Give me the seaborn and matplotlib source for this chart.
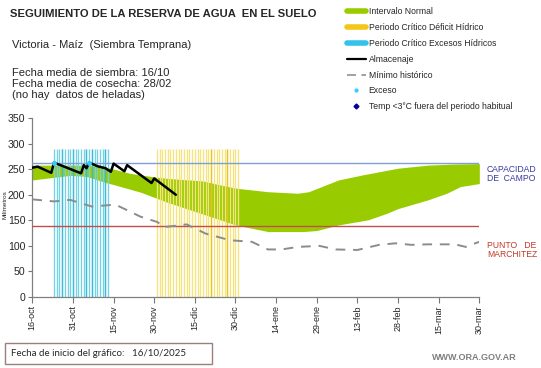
import numpy as np
import pandas as pd
import matplotlib
matplotlib.use("Agg")
import matplotlib.pyplot as plt
from matplotlib.lines import Line2D
from matplotlib.patches import Rectangle
import seaborn as sns

# ==========================================================
# DATA (days counted from 16-oct)
# ==========================================================

tick_days = [0, 15, 30, 45, 60, 75, 90, 105, 120, 135, 150, 165]
tick_labels = ["16-oct", "31-oct", "15-nov", "30-nov", "15-dic", "30-dic",
               "14-ene", "29-ene", "13-feb", "28-feb", "15-mar", "30-mar"]

# Intervalo normal (upper / lower edge)
normal_days = [0, 10, 20, 28, 36, 45, 50, 63, 67, 75, 87, 98, 102, 113,
               122, 131, 135, 146, 155, 165]
normal_upper = [258, 258, 258, 253, 242, 235, 232, 227, 222, 213, 206, 203,
                206, 229, 239, 248, 252, 258, 260, 261]
low_days = [0, 14, 20, 27, 30, 40, 50, 62, 75, 87, 100, 105, 113, 124,
            131, 135, 146, 153, 158, 165]
normal_lower = [229, 238, 236, 224, 220, 205, 185, 164, 141, 128, 128, 130,
                141, 151, 164, 173, 190, 203, 216, 222]

# Almacenaje
alm_days = [0, 2, 7, 8, 18, 19, 20, 21, 24, 27, 29, 30, 34, 35, 44, 45, 53]
alm_mm = [253, 255, 243, 263, 242, 258, 252, 263, 256, 252, 245, 261, 246,
          258, 223, 232, 200]

# Exceso
exc_days = [8, 21]
exc_mm = [263, 263]

# Minimo historico
min_days = [0, 8, 14, 22, 29, 31, 40, 46, 49, 57, 64, 73, 81, 87, 92, 98,
            106, 112, 120, 128, 134, 140, 146, 156, 160, 165]
min_mm = [191, 187, 190, 177, 180, 180, 157, 147, 137, 142, 124, 111, 108,
          93, 93, 98, 100, 93, 92, 102, 105, 102, 103, 103, 98, 108]

# Periodos criticos (one bar per day)
exceso_days = list(range(8, 29))
exceso_dark = [11, 15, 20, 22, 27]
deficit_days = list(range(46, 77))
deficit_dark = [66, 72]
bar_top = 290

capacidad_campo = 263
punto_marchitez = 138

# ==========================================================
# STYLE
# ==========================================================

sns.set_style("ticks")
plt.rcParams["font.family"] = ["Liberation Sans", "DejaVu Sans"]

GREEN = "#99cc00"
YELLOW = "#f5e37c"
YELLOW_DARK = "#e6c41a"
CYAN = "#72d2e6"
CYAN_DARK = "#3cb9d4"

fig = plt.figure(figsize=(5.41, 3.68), dpi=100)
ax = fig.add_axes([0.0597, 0.193, 0.886 - 0.0597, 0.679 - 0.193])

# band
grid = np.arange(0, 166)
ax.fill_between(
    grid,
    np.interp(grid, low_days, normal_lower),
    np.interp(grid, normal_days, normal_upper),
    color=GREEN,
    linewidth=0,
    zorder=1
)

# critical period bars
ax.vlines(exceso_days, 0, bar_top, color=CYAN, linewidth=0.95, zorder=2)
ax.vlines(exceso_dark, 0, bar_top, color=CYAN_DARK, linewidth=0.95, zorder=2)
ax.vlines(deficit_days, 0, bar_top, color=YELLOW, linewidth=0.95, zorder=2)
ax.vlines(deficit_dark, 0, bar_top, color=YELLOW_DARK, linewidth=0.95, zorder=2)

# reference lines
ax.axhline(capacidad_campo, color="#7f9fd8", linewidth=1, zorder=3)
ax.axhline(punto_marchitez, color="#c0504d", linewidth=1, zorder=3)

min_df = pd.DataFrame({"dia": min_days, "mm": min_mm})
sns.lineplot(
    data=min_df, x="dia", y="mm", ax=ax,
    color="#8c8c8c", linewidth=1.4, zorder=4
)
ax.lines[-1].set_dashes([5, 4])

alm_df = pd.DataFrame({"dia": alm_days, "mm": alm_mm})
sns.lineplot(
    data=alm_df, x="dia", y="mm", ax=ax,
    color="black", linewidth=1.8, zorder=5
)

ax.scatter(exc_days, exc_mm, s=12, color="#33ccff", zorder=6, linewidths=0)

ax.set_xlim(0, 165)
ax.set_ylim(0, 350)
ax.set_xticks(tick_days)
ax.set_xticklabels(tick_labels, rotation=90, fontsize=6.5)
ax.set_yticks(range(0, 351, 50))
ax.tick_params(axis="y", labelsize=7.6, length=3, width=0.8, color="#777777", pad=2)
ax.tick_params(axis="x", length=4, width=0.8, color="#777777", pad=2)
ax.set_xlabel("")
ax.set_ylabel("")
sns.despine(ax=ax)
for s in ["left", "bottom"]:
    ax.spines[s].set_color("#808080")
    ax.spines[s].set_linewidth(0.9)

fig.text(5 / 541, 1 - 205 / 368, "Milímetros", rotation=90, fontsize=4.5,
         ha="center", va="center")

# ==========================================================
# TEXTS
# ==========================================================

fig.text(10 / 541, 1 - 14 / 368, "SEGUIMIENTO DE LA RESERVA DE AGUA  EN EL SUELO",
         fontsize=8.1, fontweight="bold", va="center")
fig.text(12 / 541, 1 - 45 / 368, "Victoria - Maíz  (Siembra Temprana)",
         fontsize=8, va="center")
fig.text(12 / 541, 1 - 84 / 368,
         "Fecha media de siembra: 16/10\nFecha media de cosecha: 28/02\n(no hay  datos de heladas)",
         fontsize=8, va="center", linespacing=1.1)

fig.text(487 / 541, 1 - 174 / 368, "CAPACIDAD\nDE  CAMPO", fontsize=6.2,
         color="#3a3a9e", va="center", linespacing=1.1)
fig.text(487 / 541, 1 - 250 / 368, "PUNTO   DE\nMARCHITEZ", fontsize=6.2,
         color="#c0392b", va="center", linespacing=1.1)

handles = [
    Line2D([], [], color=GREEN, linewidth=4),
    Line2D([], [], color="#f5c518", linewidth=4),
    Line2D([], [], color="#33c3e8", linewidth=4),
    Line2D([], [], color="black", linewidth=1.6),
    Line2D([], [], color="#999999", linewidth=1.3, dashes=[5, 3]),
    Line2D([], [], color="#33ccff", marker=".", markersize=4, linestyle="none"),
    Line2D([], [], color="#000099", marker="D", markersize=2.5, linestyle="none"),
]
labels = ["Intervalo Normal", "Periodo Crítico Déficit Hídrico",
          "Periodo Crítico Excesos Hídricos", "Almacenaje", "Mínimo histórico",
          "Exceso", "Temp <3°C fuera del periodo habitual"]
fig.legend(handles, labels, loc="upper left",
           bbox_to_anchor=(347 / 541, 1 - 7 / 368), frameon=False,
           fontsize=6.2, handlelength=2.2, handletextpad=0.3,
           labelspacing=0.8, borderpad=0, borderaxespad=0)

fig.add_artist(Rectangle((5 / 541, 1 - 364 / 368), 207 / 541, 21 / 368,
                         transform=fig.transFigure, fill=False,
                         edgecolor="#9a7f7f", linewidth=1))
fig.text(11 / 541, 1 - 354 / 368, "Fecha de inicio del gráfico:   16/10/2025",
         fontsize=7, va="center", family=["Lato", "DejaVu Sans"])
fig.text(517 / 541, 1 - 357 / 368, "WWW.ORA.GOV.AR", fontsize=6.5,
         fontweight="bold", color="#7f7f7f", ha="right", va="center")

fig.savefig("out.png", dpi=100)
